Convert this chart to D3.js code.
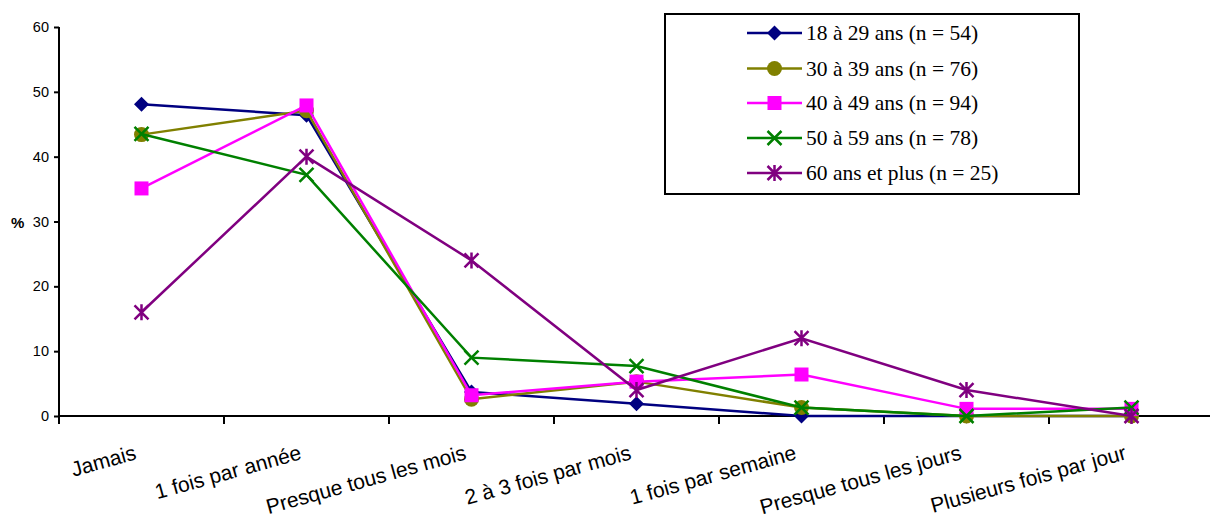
<!DOCTYPE html>
<html><head><meta charset="utf-8">
<script src="https://cdn.jsdelivr.net/npm/d3@7"></script>
<style>html,body{margin:0;padding:0;background:#fff;overflow:hidden}</style>
</head><body>
<svg id="c" width="1210" height="518"></svg>
<script>
const categories = ["Jamais","1 fois par année","Presque tous les mois","2 à 3 fois par mois","1 fois par semaine","Presque tous les jours","Plusieurs fois par jour"];
const seriesNames = ["18 à 29 ans (n = 54)","30 à 39 ans (n = 76)","40 à 49 ans (n = 94)","50 à 59 ans (n = 78)","60 ans et plus (n = 25)"];
const s18_29 = [48.1, 46.4, 3.7, 1.9, 0, 0, 0];
const s30_39 = [43.4, 47.1, 2.6, 5.3, 1.3, 0, 0];
const s40_49 = [35.1, 47.9, 3.2, 5.3, 6.4, 1.1, 1.1];
const s50_59 = [43.5, 37.2, 9.0, 7.7, 1.3, 0, 1.3];
const s60plus = [16.0, 40.0, 24.0, 4.0, 12.0, 4.0, 0];
const yTicks = [0,10,20,30,40,50,60];

const seriesValues = [s18_29, s30_39, s40_49, s50_59, s60plus];
const colors = ["#000080","#808000","#FF00FF","#008000","#800080"];
const markers = ["diamond","circle","square","x","star"];

const svg = d3.select("#c");
const x = d3.scaleBand().domain(categories).range([59, 1214]);
const y = d3.scaleLinear().domain([0,60]).range([416, 27]);
const cx = c => x(c) + x.bandwidth()/2;

// y axis
const yAxis = svg.append("g").attr("transform","translate(59,0)")
  .call(d3.axisLeft(y).tickValues(yTicks).tickSize(5).tickPadding(5).tickFormat(d3.format("d")));
yAxis.select(".domain").attr("stroke","#000").attr("stroke-width",2).attr("d","M0,27V424");
yAxis.selectAll(".tick line").attr("stroke","#000").attr("stroke-width",2);
yAxis.selectAll(".tick text").attr("font-family","Liberation Sans, Arial, sans-serif").attr("font-size",14.5).attr("fill","#000");

// x axis: ticks at category boundaries
const bounds = categories.map(c => x(c)).concat([1214]);
const xg = svg.append("g");
xg.append("line").attr("x1",58).attr("x2",1214).attr("y1",y(0)).attr("y2",y(0)).attr("stroke","#000").attr("stroke-width",2);
xg.selectAll("line.t").data(bounds.slice(1)).enter().append("line").attr("class","t")
  .attr("x1",d=>d).attr("x2",d=>d).attr("y1",y(0)).attr("y2",y(0)+8).attr("stroke","#000").attr("stroke-width",2);
xg.selectAll("text").data(categories).enter().append("text")
  .attr("transform",d=>`translate(${cx(d)-4},459) rotate(-15.5)`)
  .attr("text-anchor","end")
  .attr("font-family","Liberation Sans, Arial, sans-serif").attr("font-size",21).attr("fill","#000")
  .text(d=>d);

svg.append("text").attr("x",11).attr("y",228).attr("font-family","Liberation Sans, Arial, sans-serif")
  .attr("font-size",15).attr("font-weight","bold").text("%");

function drawMarker(g, type, color, px, py){
  const s = 7;
  if(type==="diamond"){
    g.append("path").attr("d",`M${px},${py-7.5}L${px+7.5},${py}L${px},${py+7.5}L${px-7.5},${py}Z`).attr("fill",color);
  } else if(type==="circle"){
    g.append("circle").attr("cx",px).attr("cy",py).attr("r",7.5).attr("fill",color);
  } else if(type==="square"){
    g.append("rect").attr("x",px-7).attr("y",py-7).attr("width",14).attr("height",14).attr("fill",color);
  } else if(type==="x"){
    g.append("path").attr("d",`M${px-s},${py-s}L${px+s},${py+s}M${px-s},${py+s}L${px+s},${py-s}`).attr("stroke",color).attr("stroke-width",2.5).attr("fill","none");
  } else {
    g.append("path").attr("d",`M${px-s},${py-s}L${px+s},${py+s}M${px-s},${py+s}L${px+s},${py-s}M${px},${py-s-1}L${px},${py+s+1}`).attr("stroke",color).attr("stroke-width",2.5).attr("fill","none");
  }
}

const line = d3.line().x((d,i)=>cx(categories[i])).y(d=>y(d));
seriesValues.forEach((vals, k) => {
  const g = svg.append("g");
  g.append("path").datum(vals).attr("d", line).attr("fill","none").attr("stroke",colors[k]).attr("stroke-width",2.5);
  vals.forEach((v,i) => drawMarker(g, markers[k], colors[k], cx(categories[i]), y(v)));
});

// legend
const lg = svg.append("g");
lg.append("rect").attr("x",665).attr("y",14).attr("width",414).attr("height",180).attr("fill","#fff").attr("stroke","#000").attr("stroke-width",2);
const rowY = [33, 68.5, 103, 138, 173];
seriesNames.forEach((n,k) => {
  const yy = rowY[k];
  lg.append("line").attr("x1",747).attr("x2",802).attr("y1",yy).attr("y2",yy).attr("stroke",colors[k]).attr("stroke-width",2.5);
  drawMarker(lg, markers[k], colors[k], 774.5, yy);
  lg.append("text").attr("x",806).attr("y",yy+7).attr("font-family","Liberation Serif, Times New Roman, serif").attr("font-size",21.5).attr("fill","#000").text(n);
});
</script>
</body></html>
